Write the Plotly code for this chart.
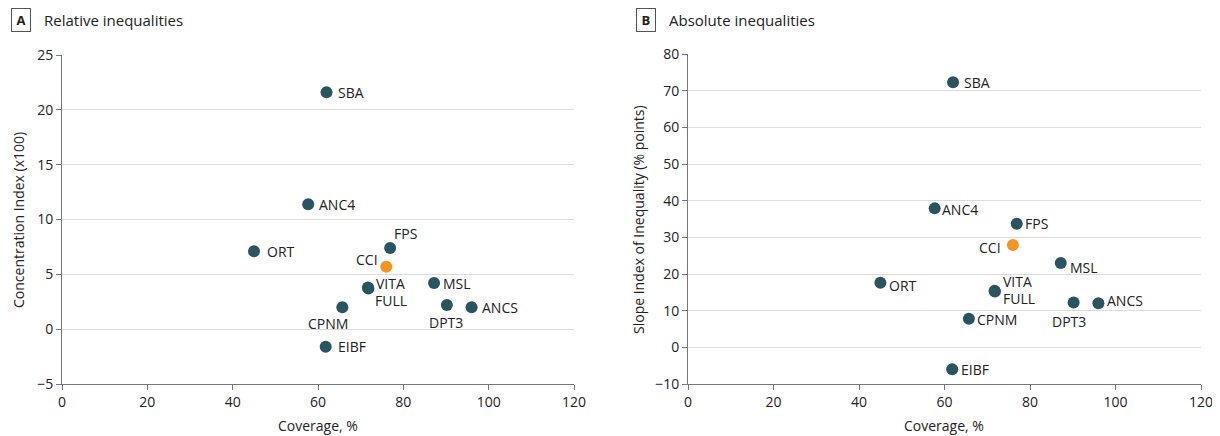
import plotly.graph_objects as go

indicators = ["SBA", "ANC4", "ORT", "FPS", "CCI", "VITA", "FULL", "MSL", "CPNM", "DPT3", "ANCS", "EIBF"]
coverage = [62.0, 57.7, 45.0, 76.9, 76.0, 71.7, 71.8, 87.2, 65.7, 90.2, 96.0, 61.8]
conc_index = [21.6, 11.4, 7.1, 7.4, 5.7, 3.8, 3.7, 4.2, 2.0, 2.2, 2.0, -1.6]
slope_index = [72.3, 37.9, 17.6, 33.7, 27.9, 15.4, 15.2, 23.0, 7.8, 12.2, 12.0, -6.0]

A_x_ticks = [0, 20, 40, 60, 80, 100, 120]
A_y_ticks = [-5, 0, 5, 10, 15, 20, 25]
B_y_ticks = [-10, 0, 10, 20, 30, 40, 50, 60, 70, 80]

TEAL = "#2b5461"
ORANGE = "#f7941d"
FONT = "Open Sans"
colors = [ORANGE if n == "CCI" else TEAL for n in indicators]

# label offsets (style): (xanchor, yanchor, xshift, yshift)
offA = {
    "SBA": ("left", "middle", 9, 0),
    "ANC4": ("left", "middle", 9, 0),
    "ORT": ("left", "middle", 11, 0),
    "FPS": ("left", "bottom", 2, 3),
    "CCI": ("right", "bottom", -6, -4),
    "VITA": ("left", "middle", 6, 4),
    "FULL": ("left", "middle", 5, -12),
    "MSL": ("left", "middle", 7, 0),
    "CPNM": ("center", "top", -14, -5),
    "DPT3": ("center", "top", -1, -6),
    "ANCS": ("left", "middle", 8, 0),
    "EIBF": ("left", "middle", 10, 0),
}
offB = {
    "SBA": ("left", "middle", 9, 0),
    "ANC4": ("left", "middle", 5, -1),
    "ORT": ("left", "middle", 7, -3),
    "FPS": ("left", "middle", 6, 0),
    "CCI": ("right", "middle", -10, -2),
    "VITA": ("left", "middle", 6, 9),
    "FULL": ("left", "middle", 6, -7),
    "MSL": ("left", "middle", 7, -4),
    "CPNM": ("left", "middle", 6, -1),
    "DPT3": ("center", "top", -5, -7),
    "ANCS": ("left", "middle", 7, 3),
    "EIBF": ("left", "middle", 7, 0),
}

fig = go.Figure()
fig.add_trace(go.Scatter(x=coverage, y=conc_index, mode="markers",
                         marker=dict(size=12, color=colors), xaxis="x", yaxis="y",
                         hovertext=indicators, showlegend=False))
fig.add_trace(go.Scatter(x=coverage, y=slope_index, mode="markers",
                         marker=dict(size=12, color=colors), xaxis="x2", yaxis="y2",
                         hovertext=indicators, showlegend=False))

anns = []
for n, cx, cy, sy in zip(indicators, coverage, conc_index, slope_index):
    xa, ya, xs, ys = offA[n]
    anns.append(dict(x=cx, y=cy, xref="x", yref="y", text=n, showarrow=False,
                     xanchor=xa, yanchor=ya, xshift=xs, yshift=ys,
                     font=dict(family=FONT, size=14, color="#222")))
    xa, ya, xs, ys = offB[n]
    anns.append(dict(x=cx, y=sy, xref="x2", yref="y2", text=n, showarrow=False,
                     xanchor=xa, yanchor=ya, xshift=xs, yshift=ys,
                     font=dict(family=FONT, size=14, color="#222")))

W, H = 1220, 436
OFF = 8  # page body margin
def px(x):
    return (x - OFF) / W
def py(y):
    return 1 - (y - OFF) / H

# Panel headers
for letter, title, x0 in [("A", "Relative inequalities", 11), ("B", "Absolute inequalities", 636)]:
    anns.append(dict(x=px(x0), y=py(20), xref="paper", yref="paper", text="<b>" + letter + "</b>",
                     showarrow=False, xanchor="left", yanchor="middle",
                     font=dict(family=FONT, size=13, color="#222"),
                     bordercolor="#555", borderwidth=1, borderpad=2, width=14))
    anns.append(dict(x=px(x0 + 31), y=py(20), xref="paper", yref="paper", text=title,
                     showarrow=False, xanchor="left", yanchor="middle",
                     font=dict(family=FONT, size=15, color="#222")))

# Axis titles
anns.append(dict(x=px(318), y=py(425), xref="paper", yref="paper", text="Coverage, %",
                 showarrow=False, xanchor="center", yanchor="middle",
                 font=dict(family=FONT, size=14, color="#222")))
anns.append(dict(x=px(944), y=py(425), xref="paper", yref="paper", text="Coverage, %",
                 showarrow=False, xanchor="center", yanchor="middle",
                 font=dict(family=FONT, size=14, color="#222")))
anns.append(dict(x=px(18), y=py(220), xref="paper", yref="paper", text="Concentration Index (x100)",
                 showarrow=False, xanchor="center", yanchor="middle", textangle=-90,
                 font=dict(family=FONT, size=14, color="#222")))
anns.append(dict(x=px(638), y=py(220), xref="paper", yref="paper", text="Slope Index of Inequality (% points)",
                 showarrow=False, xanchor="center", yanchor="middle", textangle=-90,
                 font=dict(family=FONT, size=14, color="#222")))

xcommon = dict(range=[0, 120], tickvals=A_x_ticks, showgrid=False, zeroline=False, automargin=False,
               showline=True, linecolor="#777", linewidth=1, ticks="outside", ticklen=5,
               tickcolor="#777", tickfont=dict(family=FONT, size=14, color="#222"), fixedrange=True)
ycommon = dict(showgrid=True, gridcolor="#dcdcdc", gridwidth=1, zeroline=False, automargin=False,
               showline=True, linecolor="#777", linewidth=1, ticks="outside", ticklen=5,
               tickcolor="#777", tickfont=dict(family=FONT, size=14, color="#222"), fixedrange=True)

fig.update_layout(
    width=W, height=H,
    margin=dict(l=0, r=0, t=0, b=0, autoexpand=False),
    paper_bgcolor="white", plot_bgcolor="white",
    font=dict(family=FONT, size=14, color="#222"),
    xaxis=dict(domain=[px(62), px(574)], anchor="y", **xcommon),
    yaxis=dict(domain=[py(384), py(55)], anchor="x", range=[-5, 25], tickvals=A_y_ticks, **ycommon),
    xaxis2=dict(domain=[px(688), px(1201)], anchor="y2", **xcommon),
    yaxis2=dict(domain=[py(384), py(54)], anchor="x2", range=[-10, 80], tickvals=B_y_ticks, **ycommon),
    annotations=anns,
    showlegend=False,
)

fig.write_html("out.html")
